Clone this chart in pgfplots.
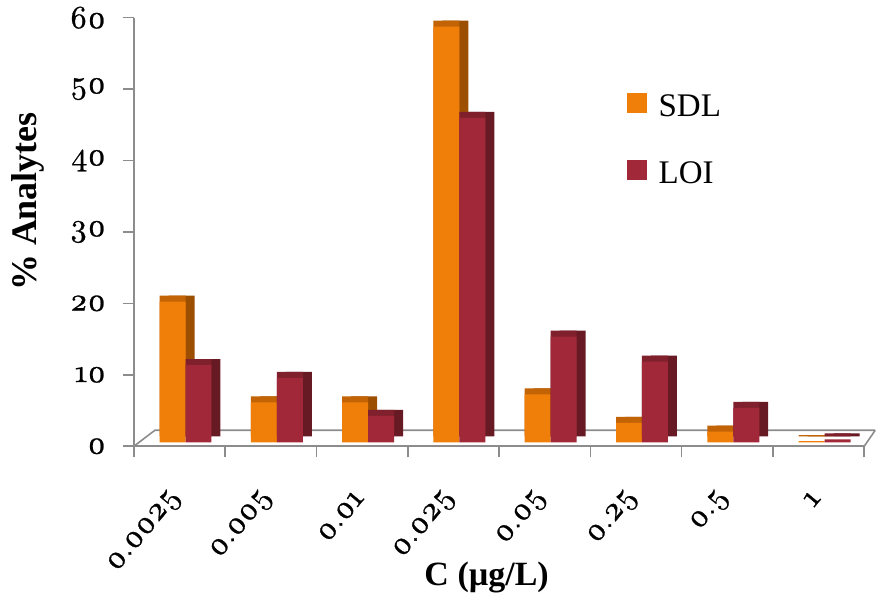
\documentclass[border=0pt]{standalone}
\usepackage{fontspec}
\setmainfont{Liberation Serif}
\newfontfamily\tickfont{lmroman10-regular.otf}[Numbers=OldStyle, FakeBold=0.8]
\usepackage{pgfplots}
\usepackage{pgfplotstable}
\pgfplotsset{compat=1.18}

\definecolor{sdl}{HTML}{F07F0A}
\definecolor{sdltop}{HTML}{C26406}
\definecolor{sdlside}{HTML}{9C4F00}
\definecolor{loi}{HTML}{A02838}
\definecolor{loitop}{HTML}{80202C}
\definecolor{loiside}{HTML}{681A24}
\definecolor{axgray}{HTML}{8C8C8C}

% x = category centre (0.0025 ... 1)
\pgfplotstableread{
x   sdl   loi
0.5 19.7  10.8
1.5 5.6   9.0
2.5 5.6   3.7
3.5 58.2  45.4
4.5 6.7   14.8
5.5 2.7   11.3
6.5 1.5   4.8
7.5 0.15  0.4
}\data

\begin{document}
\begin{tikzpicture}
\begin{axis}[
    scale only axis,
    width=365.5pt, height=214.5pt,
    xmin=0, xmax=8, ymin=0, ymax=60,
    axis x line*=bottom, axis y line*=left,
    axis line style={axgray, line width=0.8pt},
    tick align=outside,
    major tick length=5.5pt,
    ytick={0,10,...,60},
    ytick style={axgray, line width=0.8pt},
    yticklabel style={font=\tickfont\fontsize{16}{18}\selectfont, xshift=-5pt},
    /pgf/number format/assume math mode=true,
    xtick={0,...,8}, xticklabels={},
    xtick style={axgray, line width=0.8pt},
    extra x ticks={0.5,1.5,...,7.5},
    extra x tick labels={0.0025,0.005,0.01,0.025,0.05,0.25,0.5,1},
    extra x tick style={/pgfplots/major tick length=0pt,
      xticklabel style={xshift=1pt, yshift=-21pt, rotate=50, anchor=east,
        font=\tickfont\fontsize{16}{18}\selectfont}},
    ylabel={\textbf{\% Analytes}},
    ylabel style={at={(axis description cs:-0.145,0.571)}, anchor=center,
      font=\fontsize{18}{20}\selectfont},
    xlabel={\textbf{C (µg/L)}},
    xlabel style={at={(axis description cs:0.483,-0.305)}, anchor=center,
      font=\fontsize{17}{19}\selectfont},
    legend style={at={(axis description cs:0.666,0.84)}, anchor=north west,
      draw=none, fill=none, font=\fontsize{16.5}{19}\selectfont,
      row sep=17pt, cells={anchor=west},
      /tikz/every odd column/.append style={column sep=4pt}},
    legend image code/.code={\fill[#1,draw=none] (0pt,-5pt) rectangle (10pt,5pt);},
    clip=false,
]
% white margin on the left, as in the reference
\path ([xshift=-67pt]axis cs:0,0);
% floor of the 3-D plot area
\draw[axgray, line width=0.8pt] (axis cs:0,0) -- ++(10.5pt,8pt)
  -- ([xshift=5.5pt,yshift=8pt]axis cs:8,0);
\draw[axgray, line width=0.8pt] (axis cs:8,0) -- ++(5.5pt,8pt);

% SDL: side, top, front
\addplot[ybar, bar width=13pt, bar shift=1pt, fill=sdlside, draw=none,
  yshift=5pt, forget plot] table[x=x, y=sdl] {\data};
\addplot[ybar, bar width=13pt, bar shift=-3.5pt, fill=sdltop, draw=none,
  yshift=5pt, forget plot] table[x=x, y=sdl] {\data};
\addplot[ybar, bar width=13pt, bar shift=-3.5pt, fill=sdl, draw=none,
  yshift=2pt] table[x=x, y=sdl] {\data};
% LOI: side, top, front
\addplot[ybar, bar width=13pt, bar shift=14pt, fill=loiside, draw=none,
  yshift=5pt, forget plot] table[x=x, y=loi] {\data};
\addplot[ybar, bar width=13pt, bar shift=9.5pt, fill=loitop, draw=none,
  yshift=5pt, forget plot] table[x=x, y=loi] {\data};
\addplot[ybar, bar width=13pt, bar shift=9.5pt, fill=loi, draw=none,
  yshift=2pt] table[x=x, y=loi] {\data};
\legend{SDL,LOI}
\end{axis}
\end{tikzpicture}
\end{document}
